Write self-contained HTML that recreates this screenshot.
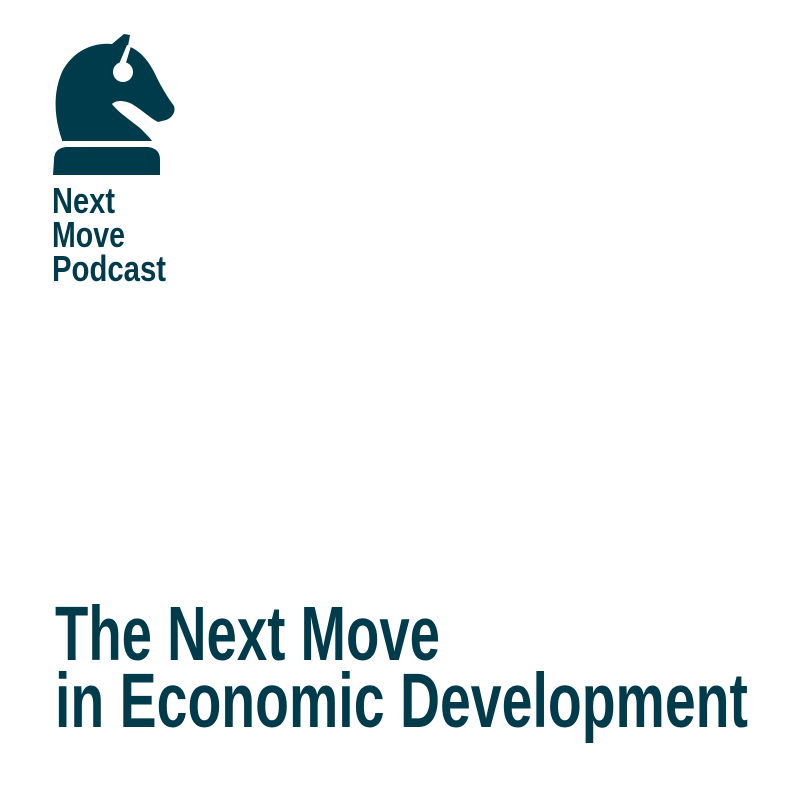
<!DOCTYPE html>
<html><head><meta charset="utf-8"><style>
html,body{margin:0;padding:0;background:#fff;}
svg{display:block}
text{font-family:"Liberation Sans Narrow","Liberation Sans",sans-serif;font-weight:bold;fill:#003b4c}
</style></head><body>
<svg width="800" height="800" viewBox="0 0 800 800">
<g fill="#003b4c">
  <path d="M62,140 C55,120 52,95 62,72 C72,52 92,42 112,44 L124,34 L130,35 L128,46 C140,50 150,62 157,78 C162,88 168,98 174,106 C176,112 172,118 166,120 L158,122 C150,118 142,110 132,104 C124,100 116,100 112,104 C118,112 130,120 140,128 C146,134 150,138 152,141 L62,141 Z"/>
  <path d="M54,160 C54,152 58,148 66,147 L148,147 C156,148 160,152 160,160 L160,175 L53,175 Z"/>
  <circle cx="123" cy="72" r="10" fill="#fff"/>
  <path d="M119,64 L127,45 L131,46 L125,66 Z" fill="#fff"/>
</g>
<g>
  <text x="52" y="213" font-size="36" textLength="63" lengthAdjust="spacingAndGlyphs">Next</text>
  <text x="52" y="247" font-size="36" textLength="73" lengthAdjust="spacingAndGlyphs">Move</text>
  <text x="52" y="281" font-size="36" textLength="114" lengthAdjust="spacingAndGlyphs">Podcast</text>
</g>
<g>
  <text x="55" y="660" font-size="77" textLength="385" lengthAdjust="spacingAndGlyphs">The Next Move</text>
  <text x="55" y="727" font-size="77" textLength="693" lengthAdjust="spacingAndGlyphs">in Economic Development</text>
</g>
</svg>
</body></html>
